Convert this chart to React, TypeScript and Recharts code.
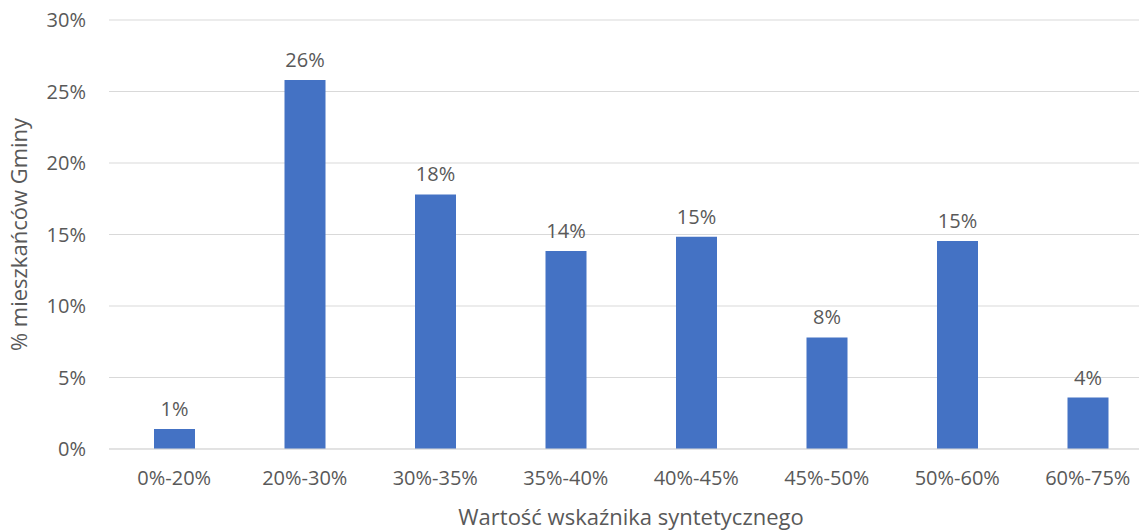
import React from 'react';
import { BarChart, Bar, XAxis, YAxis, CartesianGrid, LabelList } from 'recharts';

const categories = ['0%-20%', '20%-30%', '30%-35%', '35%-40%', '40%-45%', '45%-50%', '50%-60%', '60%-75%'];
const shares = [1.4, 25.8, 17.8, 13.85, 14.85, 7.8, 14.55, 3.6];
const yTicks = [0, 5, 10, 15, 20, 25, 30];

const data = categories.map((name, i) => ({ name, value: shares[i] }));

const FONT = '"Open Sans", sans-serif';
const TEXT = '#595959';

const XTitle = (props: any) => {
  const { viewBox } = props;
  return (
    <text x={viewBox.x + viewBox.width / 2} y={525} textAnchor="middle" fill={TEXT} fontSize={22} fontFamily={FONT}>
      Wartość wskaźnika syntetycznego
    </text>
  );
};

const YTitle = (props: any) => {
  const { viewBox } = props;
  const cy = viewBox.y + viewBox.height / 2;
  return (
    <text x={27} y={cy} transform={`rotate(-90 27 ${cy})`} textAnchor="middle" fill={TEXT} fontSize={22} fontFamily={FONT}>
      % mieszkańców Gminy
    </text>
  );
};

export default function App() {
  return (
    <div style={{ position: 'absolute', left: 0, top: 0, width: 1139, height: 530, overflow: 'hidden', background: '#fff' }}>
      <BarChart width={1160} height={530} data={data} margin={{ top: 20, right: 7, bottom: 0, left: 0 }}>
        <CartesianGrid vertical={false} stroke="#d9d9d9" />
        <XAxis
          dataKey="name"
          height={81}
          tickLine={false}
          tickSize={0}
          tickMargin={22}
          axisLine={{ stroke: '#d9d9d9' }}
          tick={{ fill: TEXT, fontSize: 20, fontFamily: FONT }}
          label={<XTitle />}
        />
        <YAxis
          width={109}
          domain={[0, 30]}
          ticks={yTicks}
          tickFormatter={(v: number) => `${v}%`}
          axisLine={false}
          tickLine={false}
          tickSize={0}
          tickMargin={23}
          tick={{ fill: TEXT, fontSize: 20, fontFamily: FONT }}
          label={<YTitle />}
        />
        <Bar dataKey="value" fill="#4472c4" barSize={41} isAnimationActive={false}>
          <LabelList
            dataKey="value"
            position="top"
            offset={13}
            formatter={(v: any) => `${Math.round(Number(v))}%`}
            style={{ fill: TEXT, fontSize: 20, fontFamily: FONT }}
          />
        </Bar>
      </BarChart>
    </div>
  );
}
